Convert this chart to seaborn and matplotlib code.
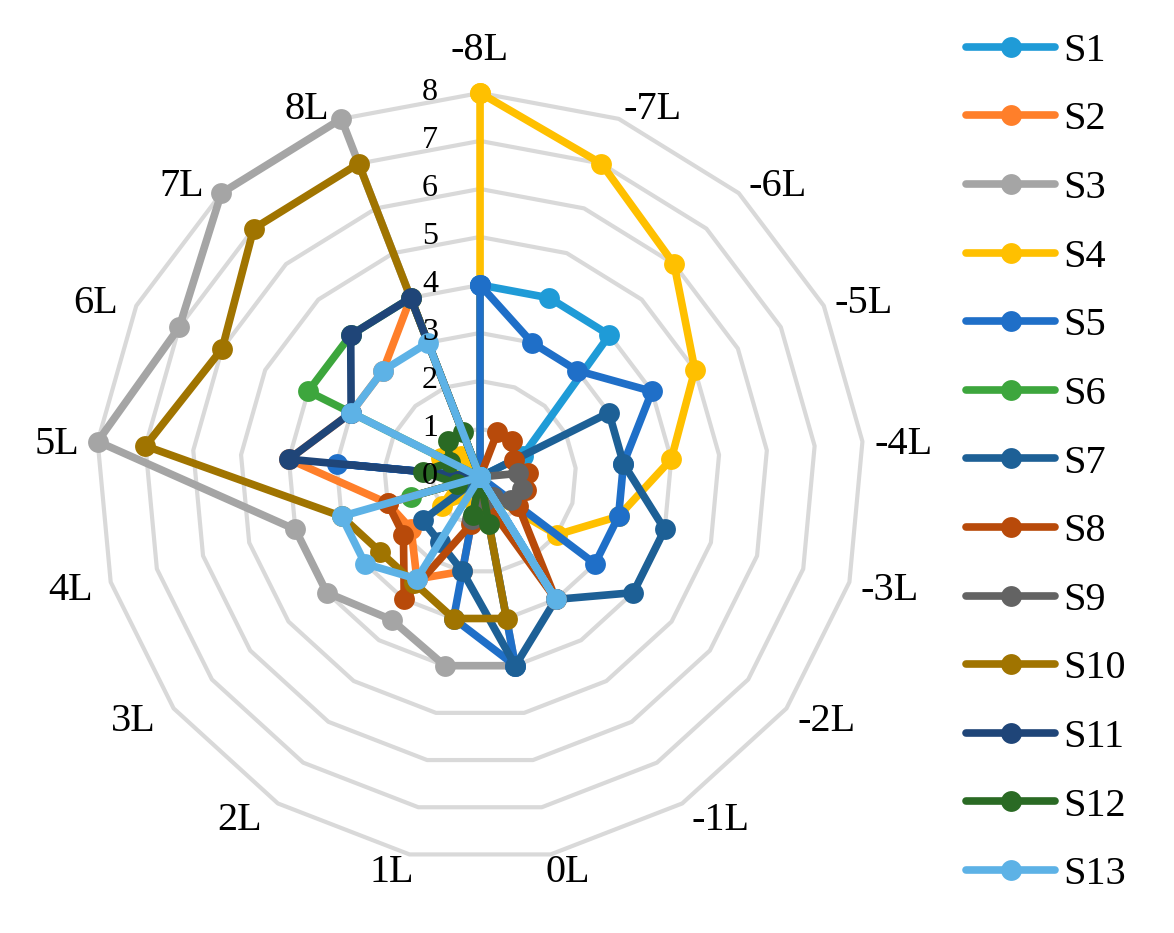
import matplotlib
matplotlib.use("Agg")

import matplotlib.pyplot as plt
import numpy as np
import pandas as pd
import seaborn as sns
from matplotlib.lines import Line2D
from matplotlib.transforms import offset_copy

categories = ["-8L", "-7L", "-6L", "-5L", "-4L", "-3L", "-2L", "-1L", "0L",
              "1L", "2L", "3L", "4L", "5L", "6L", "7L", "8L"]

s1 = [4, 4, 4, 1, 0, 0, 0, 0, 0, 0, 0, 0, 0, 0, 0, 0, 0]
s2 = [0, 0, 0, 0, 0, 0, 0, 0, 0, 2, 2.5, 1.8, 2, 4, 3, 3, 4]
s3 = [0, 0, 0, 0, 0, 0, 0, 0, 4, 4, 3.5, 4, 4, 8, 7, 8, 8]
s4 = [8, 7, 6, 5, 4, 3, 2, 0.5, 0, 0, 0.5, 1, 0.5, 0.5, 0.9, 0.6, 0]
s5 = [4, 3, 3, 4, 3, 3, 3, 0, 4, 3, 0, 0, 0, 3, 0, 0, 0]
s6 = [0, 0, 0, 0, 0, 0, 0, 0, 0, 0, 0, 0, 1.5, 0, 4, 4, 4]
s7 = [0, 0, 0, 3, 3, 4, 4, 3, 4, 2, 1.6, 1.5, 0, 0, 0, 0, 0]
s8 = [0, 1, 1, 0.8, 1, 1, 1, 3, 0.5, 1, 3, 2, 2, 0, 0, 0, 0]
s9 = [0, 0, 0, 0, 0.8, 0.9, 0.8, 0.5, 0.5, 0.9, 0, 0, 0, 0, 0, 0, 0]
s10 = [0, 0, 0, 0, 0, 0, 0, 0, 3, 3, 2.6, 2.6, 3, 7, 6, 7, 7]
s11 = [0, 0, 0, 0, 0, 0, 0, 0, 0, 0, 0, 0, 0, 4, 3, 4, 4]
s12 = [0, 0, 0, 0, 0, 0, 0, 0, 1, 0.8, 0, 0, 0.5, 1.2, 0.7, 1, 1]
s13 = [0, 0, 0, 0, 0, 0, 0, 3, 0, 0, 2.5, 3, 3, 0, 3, 3, 3]

series_names = ["S1", "S2", "S3", "S4", "S5", "S6", "S7",
                "S8", "S9", "S10", "S11", "S12", "S13"]
series_values = [s1, s2, s3, s4, s5, s6, s7, s8, s9, s10, s11, s12, s13]
colors = ["#1F9BD7", "#FF7F2A", "#A5A5A5", "#FFC000", "#1F6FC8", "#3DA63D",
          "#1D6096", "#B84A0A", "#636363", "#A07400", "#1F4578", "#2A6A24",
          "#5DB2E6"]


def main():
    sns.set_style("white")
    plt.rcParams["font.family"] = ["Liberation Serif", "DejaVu Serif"]
    plt.rcParams["text.color"] = "black"

    n = len(categories)
    theta = np.linspace(0, 2 * np.pi, n, endpoint=False)
    ring = np.append(theta, 2 * np.pi)

    # 闭合多边形：每条序列末尾再接回第一个点
    rows = []
    for name, vals in zip(series_names, series_values):
        for i, t in enumerate(ring):
            rows.append({"series": name, "theta": t, "value": vals[i % n]})
    df = pd.DataFrame(rows)

    fig = plt.figure(figsize=(11.74, 9.33), dpi=100)
    ax = fig.add_axes([0.0818, 0.0772, 0.6542, 0.8232], projection="polar")
    ax.set_theta_zero_location("N")
    ax.set_theta_direction(-1)

    for level in range(1, 9):
        ax.plot(ring, [level] * len(ring), color="#D9D9D9", lw=3, zorder=0)

    sns.lineplot(data=df, x="theta", y="value", hue="series",
                 hue_order=series_names, palette=dict(zip(series_names, colors)),
                 sort=False, estimator=None, marker="o", markersize=15,
                 markeredgewidth=0, lw=5.5, legend=False, ax=ax)

    for line in ax.lines:
        line.set_clip_on(False)

    ax.set_ylim(0, 8)
    ax.set_xticks([])
    ax.set_yticks([])
    ax.grid(False)
    ax.spines["polar"].set_visible(False)
    ax.set_xlabel("")
    ax.set_ylabel("")

    # 径向刻度数字，放在竖轴左侧
    tick_tr = offset_copy(ax.transData, fig=fig, x=-50, y=0, units="dots")
    for v in range(9):
        ax.text(0, v, str(v), transform=tick_tr, ha="center", va="center", fontsize=23)

    # 类别标签：贴在外圈顶点外侧，按方向偏移
    for i, (t, label) in enumerate(zip(theta, categories)):
        dx = 36 * np.clip(2.5 * np.sin(t), -1, 1)
        dy = 10 * np.cos(t) - 4 + (32 if i == 0 else 0)
        ax.annotate(label, xy=(t, 8.1), xytext=(dx, dy), textcoords="offset pixels",
                    ha="center", va="center", fontsize=29, annotation_clip=False)

    handles = [Line2D([], [], color=c, lw=5.5, marker="o", markersize=15, markeredgewidth=0)
               for c in colors]
    fig.legend(handles, series_names, loc="upper left", bbox_to_anchor=(0.823, 0.965),
               frameon=False, fontsize=29, handlelength=2.2, handletextpad=0.2,
               labelspacing=0.78, borderpad=0, borderaxespad=0)

    fig.savefig("out.png", dpi=100)
    plt.close(fig)


if __name__ == "__main__":
    main()
